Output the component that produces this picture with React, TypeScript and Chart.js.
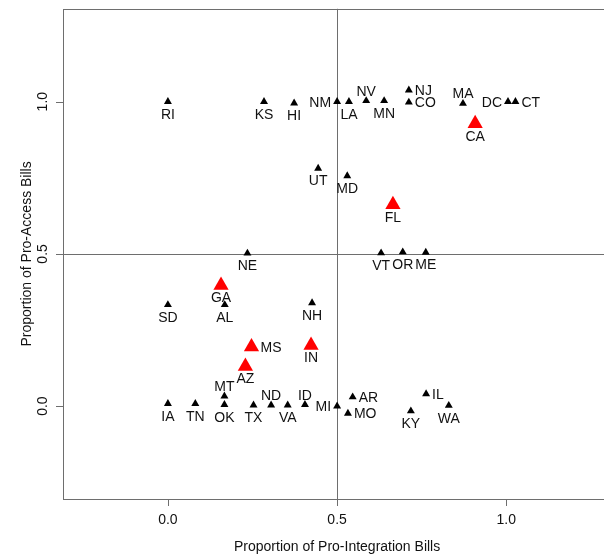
import React, { useEffect, useRef } from "react";
import { Chart, registerables } from "chart.js";

Chart.register(...registerables);

const states = ["RI","KS","HI","NM","LA","NV","MN","NJ","CO","MA","DC","CT","CA","UT","MD","FL","VT","OR","ME","NE","GA","SD","AL","NH","MS","IN","AZ","MT","IA","TN","OK","TX","ND","VA","ID","MI","AR","MO","IL","KY","WA"];
const proIntegration = [0.0,0.284,0.373,0.5,0.535,0.586,0.639,0.712,0.712,0.872,1.005,1.027,0.908,0.444,0.53,0.665,0.63,0.694,0.762,0.235,0.157,0.0,0.168,0.426,0.247,0.423,0.229,0.167,0.0,0.081,0.167,0.253,0.305,0.354,0.405,0.5,0.546,0.532,0.763,0.718,0.83];
const proAccess = [1.0,1.0,0.995,1.0,1.0,1.003,1.003,1.038,0.998,0.994,1.0,1.0,0.928,0.781,0.756,0.662,0.503,0.506,0.505,0.502,0.397,0.333,0.333,0.339,0.195,0.2,0.131,0.033,0.008,0.008,0.005,0.003,0.003,0.003,0.005,0.0,0.03,-0.024,0.04,-0.016,0.002];
const highlighted = ["CA","FL","GA","MS","IN","AZ"];
// label side: 1 below, 2 left, 3 above, 4 right
const labelSide = [1,1,1,2,1,3,1,4,4,3,2,4,1,1,1,1,1,1,1,1,1,1,1,1,4,1,1,3,1,1,1,1,3,1,3,2,4,4,4,1,1];
const tickValues = [0, 0.5, 1];
const tickLabels = ["0.0", "0.5", "1.0"];
const refX = 0.5;
const refY = 0.5;
const xTitle = "Proportion of Pro-Integration Bills";
const yTitle = "Proportion of Pro-Access Bills";

const FONT = '14px "Liberation Sans", Arial, Helvetica, sans-serif';
const LINE = "#6e6e6e";

const overlay = {
  id: "rOverlay",
  beforeDatasetsDraw(chart: any) {
    const { ctx, chartArea: a, scales } = chart;
    const xs = scales.x, ys = scales.y;
    ctx.save();
    ctx.strokeStyle = LINE;
    ctx.lineWidth = 1;
    const px = Math.round(xs.getPixelForValue(refX)) + 0.5;
    const py = Math.round(ys.getPixelForValue(refY)) + 0.5;
    ctx.beginPath();
    ctx.moveTo(px, a.top); ctx.lineTo(px, a.bottom);
    ctx.moveTo(a.left, py); ctx.lineTo(a.right, py);
    ctx.stroke();
    ctx.strokeRect(Math.round(a.left) + 0.5, Math.round(a.top) + 0.5, Math.round(a.right - a.left), Math.round(a.bottom - a.top));
    ctx.beginPath();
    tickValues.forEach((v) => {
      const x = Math.round(xs.getPixelForValue(v)) + 0.5;
      ctx.moveTo(x, a.bottom); ctx.lineTo(x, a.bottom + 7);
      const y = Math.round(ys.getPixelForValue(v)) + 0.5;
      ctx.moveTo(a.left, y); ctx.lineTo(a.left - 7, y);
    });
    ctx.stroke();
    ctx.fillStyle = "#111";
    ctx.font = FONT;
    ctx.textAlign = "center";
    ctx.textBaseline = "alphabetic";
    tickValues.forEach((v, i) => {
      ctx.fillText(tickLabels[i], xs.getPixelForValue(v), a.bottom + 25);
      ctx.save();
      ctx.translate(a.left - 16, ys.getPixelForValue(v));
      ctx.rotate(-Math.PI / 2);
      ctx.fillText(tickLabels[i], 0, 0);
      ctx.restore();
    });
    ctx.fillText(xTitle, (a.left + a.right) / 2, a.bottom + 52);
    ctx.save();
    ctx.translate(a.left - 32, (a.top + a.bottom) / 2);
    ctx.rotate(-Math.PI / 2);
    ctx.fillText(yTitle, 0, 0);
    ctx.restore();
    ctx.restore();
  },
  afterDatasetsDraw(chart: any) {
    const { ctx, scales } = chart;
    const xs = scales.x, ys = scales.y;
    ctx.save();
    ctx.fillStyle = "#111";
    ctx.font = FONT;
    ctx.textBaseline = "alphabetic";
    states.forEach((s, i) => {
      const x = xs.getPixelForValue(proIntegration[i]);
      const y = ys.getPixelForValue(proAccess[i]);
      const side = labelSide[i];
      const big = highlighted.includes(s);
      if (side === 1) {
        ctx.textAlign = "center";
        ctx.fillText(s, x, y + 17);
      } else if (side === 3) {
        ctx.textAlign = "center";
        ctx.fillText(s, x, y - (big ? 9 : 5));
      } else if (side === 2) {
        ctx.textAlign = "right";
        ctx.fillText(s, x - (big ? 9 : 6), y + 5);
      } else {
        ctx.textAlign = "left";
        ctx.fillText(s, x + (big ? 9 : 6), y + 5);
      }
    });
    ctx.restore();
  },
};

export default function App() {
  const ref = useRef<HTMLCanvasElement>(null);
  useEffect(() => {
    if (!ref.current) return;
    const small: any[] = [];
    const large: any[] = [];
    states.forEach((s, i) => {
      const p = { x: proIntegration[i], y: proAccess[i] };
      (highlighted.includes(s) ? large : small).push(p);
    });
    const chart = new Chart(ref.current, {
      type: "scatter",
      data: {
        datasets: [
          { label: "other", data: small, pointStyle: "triangle", pointRadius: 4.6, backgroundColor: "#000", borderWidth: 0 },
          { label: "highlighted", data: large, pointStyle: "triangle", pointRadius: 8.8, backgroundColor: "#ff0000", borderWidth: 0 },
        ],
      },
      options: {
        responsive: false,
        animation: false,
        layout: { padding: { left: 63, top: 7, right: 5, bottom: 56 } },
        scales: {
          x: { type: "linear", min: -0.31, max: 1.31, display: false },
          y: { type: "linear", min: -0.305, max: 1.305, display: false },
        },
        plugins: { legend: { display: false }, tooltip: { enabled: false } },
      },
      plugins: [overlay],
    });
    return () => chart.destroy();
  }, []);
  return (
    <div style={{ position: "fixed", left: 0, top: 0, width: 604, height: 555, overflow: "hidden", background: "#fff" }}>
      <canvas ref={ref} width={620} height={555} style={{ display: "block" }} />
    </div>
  );
}
